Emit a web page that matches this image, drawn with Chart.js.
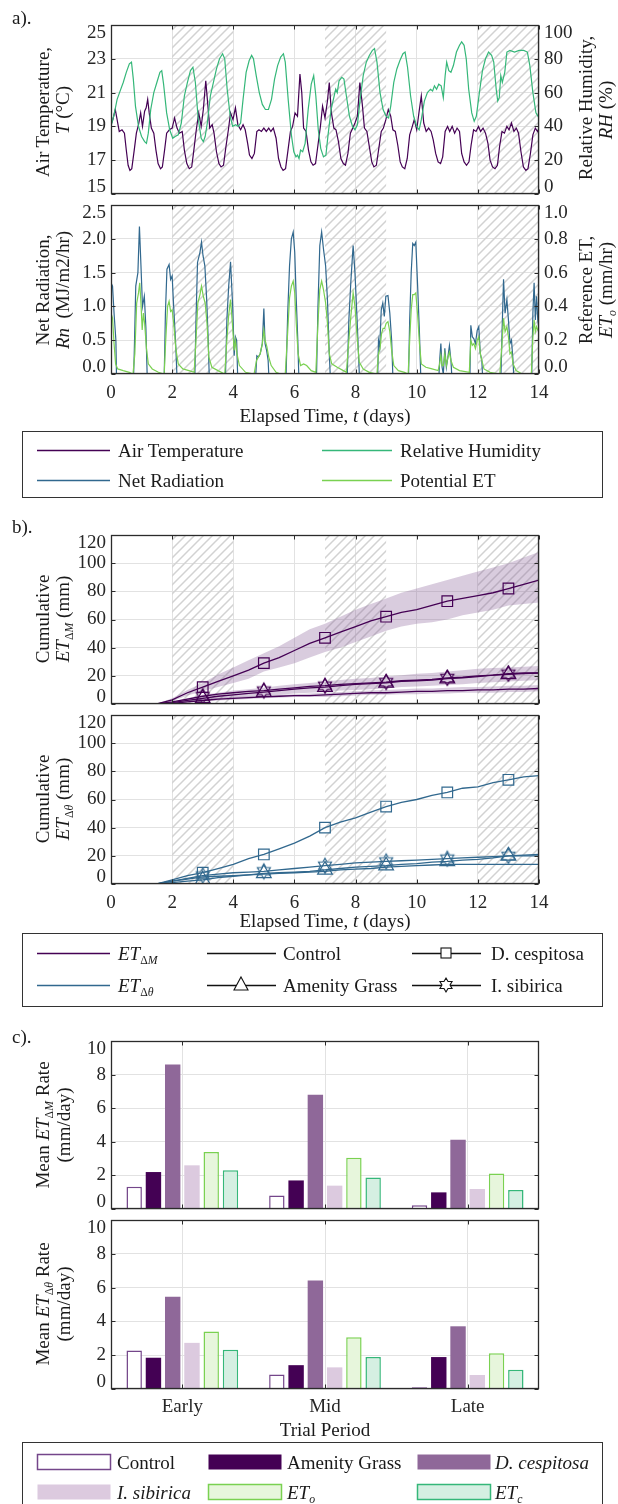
<!DOCTYPE html>
<html><head><meta charset="utf-8">
<script src="https://cdn.jsdelivr.net/npm/chart.js@4.4.1/dist/chart.umd.min.js"></script>
<style>
html,body{margin:0;padding:0;background:#fff;}
#wrap{position:relative;width:618px;height:1504px;overflow:hidden;background:#fff;font-family:'Liberation Serif','Times New Roman',serif;color:#1a1a1a;}
.t{position:absolute;white-space:nowrap;font-size:19px;line-height:1;}
.r{transform:translate(-50%,-50%) rotate(-90deg);}
.h{transform:translate(-50%,-50%);}
.l{transform:translate(0,-50%);}
sub{font-size:0.62em;vertical-align:-0.4em;line-height:0;}
</style></head>
<body><div id="wrap"></div>
<script>
// ---------------- DATA ----------------
const X_TICKS = [0, 2, 4, 6, 8, 10, 12, 14];
const HATCH_PERIODS = [[2, 4], [7, 9], [12, 14]];

// Air temperature (day, degC)
const airTemp = [[0,19.1],[0.06,19.4],[0.14,20.0],[0.21,19.3],[0.27,18.7],[0.36,18.8],[0.44,18.6],[0.50,17.6],[0.56,16.7],[0.62,16.4],[0.68,16.5],[0.76,17.6],[0.83,18.6],[0.90,19.1],[0.97,19.8],[1.03,19.0],[1.10,19.9],[1.15,20.1],[1.20,20.6],[1.25,19.8],[1.32,18.9],[1.40,18.6],[1.47,17.6],[1.54,16.8],[1.62,16.5],[1.68,16.6],[1.76,17.7],[1.82,18.6],[1.91,18.8],[2.00,18.9],[2.08,19.5],[2.16,18.9],[2.24,18.6],[2.33,18.7],[2.40,17.6],[2.48,16.8],[2.56,16.5],[2.64,16.6],[2.71,17.6],[2.79,18.8],[2.87,19.8],[2.95,19.0],[3.02,20.0],[3.10,21.7],[3.17,20.2],[3.23,18.9],[3.31,19.1],[3.37,18.6],[3.45,17.5],[3.53,16.8],[3.60,16.6],[3.68,16.7],[3.76,17.8],[3.84,18.8],[3.91,19.8],[3.99,19.4],[4.07,20.1],[4.15,19.1],[4.24,18.8],[4.32,19.1],[4.39,18.8],[4.47,18.0],[4.53,17.3],[4.61,17.1],[4.69,17.4],[4.77,18.7],[4.84,18.8],[4.92,18.7],[5.00,18.9],[5.08,18.7],[5.16,18.9],[5.23,18.7],[5.31,18.9],[5.40,18.3],[5.48,17.1],[5.56,16.6],[5.63,16.4],[5.71,16.5],[5.79,17.6],[5.87,18.7],[5.94,19.0],[6.02,19.8],[6.10,19.6],[6.18,22.1],[6.24,21.0],[6.30,18.9],[6.38,18.7],[6.46,17.6],[6.54,16.9],[6.61,16.7],[6.69,16.8],[6.77,17.9],[6.85,19.0],[6.92,20.2],[7.00,19.5],[7.08,20.5],[7.14,21.6],[7.21,19.8],[7.29,18.9],[7.36,18.8],[7.44,18.1],[7.52,17.1],[7.60,16.8],[7.67,16.7],[7.75,17.4],[7.83,18.6],[7.91,18.9],[7.98,19.2],[8.06,19.6],[8.14,21.6],[8.22,20.3],[8.29,18.9],[8.37,18.7],[8.45,17.8],[8.53,16.9],[8.60,16.6],[8.68,16.7],[8.76,17.7],[8.84,18.7],[8.91,18.9],[8.99,19.4],[9.07,20.0],[9.15,19.6],[9.22,18.8],[9.30,18.7],[9.38,17.9],[9.46,16.9],[9.53,16.6],[9.61,16.5],[9.69,17.1],[9.77,18.5],[9.84,18.9],[9.92,19.4],[10.00,18.8],[10.08,19.9],[10.15,20.8],[10.23,19.2],[10.31,18.7],[10.39,18.9],[10.47,18.7],[10.54,18.2],[10.62,17.4],[10.70,16.9],[10.78,16.8],[10.85,17.2],[10.93,18.7],[11.01,19.0],[11.08,18.7],[11.16,19.0],[11.24,18.6],[11.32,18.9],[11.40,18.7],[11.47,17.4],[11.55,16.9],[11.63,16.7],[11.71,16.9],[11.78,17.9],[11.86,18.8],[11.94,18.7],[12.02,19.0],[12.09,18.7],[12.17,18.9],[12.25,18.6],[12.33,18.0],[12.40,17.0],[12.48,16.6],[12.56,16.5],[12.64,16.7],[12.71,17.8],[12.79,18.7],[12.87,18.6],[12.95,19.0],[13.02,18.8],[13.10,19.2],[13.18,18.7],[13.26,18.9],[13.33,18.6],[13.41,17.5],[13.49,16.6],[13.57,16.4],[13.64,16.5],[13.72,17.4],[13.80,18.5],[13.88,18.9],[13.95,18.7],[14.00,18.9]];

// Relative humidity (day, %)
const relHum = [[0,40],[0.1,47],[0.2,56],[0.3,61],[0.4,66],[0.5,72],[0.6,77],[0.67,78],[0.73,68],[0.8,52],[0.9,40],[1.0,34],[1.1,31],[1.16,30],[1.22,36],[1.3,50],[1.4,60],[1.5,66],[1.6,72],[1.66,73],[1.72,65],[1.82,48],[1.92,38],[2.02,33],[2.1,34],[2.2,35],[2.3,42],[2.4,58],[2.5,66],[2.6,73],[2.68,75],[2.76,66],[2.85,45],[2.95,33],[3.02,31],[3.08,34],[3.15,42],[3.25,58],[3.35,66],[3.45,74],[3.55,80],[3.65,83],[3.72,80],[3.8,62],[3.9,46],[3.98,40],[4.08,41],[4.16,40],[4.24,42],[4.32,56],[4.42,72],[4.52,79],[4.6,82],[4.66,80],[4.75,70],[4.85,60],[4.95,53],[5.05,50],[5.15,50],[5.25,56],[5.35,68],[5.45,76],[5.55,81],[5.64,83],[5.7,78],[5.8,55],[5.9,35],[5.98,25],[6.05,22],[6.1,23],[6.15,21],[6.2,26],[6.27,25],[6.35,30],[6.45,50],[6.55,65],[6.63,70],[6.7,58],[6.78,38],[6.86,27],[6.95,22],[7.03,23],[7.1,35],[7.2,50],[7.3,58],[7.35,62],[7.4,60],[7.46,67],[7.55,69],[7.62,68],[7.7,58],[7.8,46],[7.9,40],[7.98,38],[8.06,41],[8.15,56],[8.25,70],[8.35,78],[8.45,82],[8.55,85],[8.62,86],[8.7,78],[8.8,60],[8.9,50],[9.0,46],[9.08,45],[9.15,52],[9.25,66],[9.35,74],[9.45,79],[9.55,83],[9.62,84],[9.7,75],[9.8,58],[9.9,46],[10.0,40],[10.08,38],[10.15,44],[10.25,55],[10.35,60],[10.45,62],[10.52,61],[10.58,64],[10.65,62],[10.72,65],[10.8,64],[10.87,57],[10.93,70],[10.98,78],[11.05,73],[11.12,72],[11.2,76],[11.3,84],[11.4,88],[11.47,90],[11.55,88],[11.62,80],[11.7,62],[11.8,48],[11.88,43],[11.95,46],[12.05,60],[12.15,73],[12.25,80],[12.35,84],[12.45,82],[12.52,78],[12.6,62],[12.65,55],[12.7,57],[12.75,70],[12.8,66],[12.88,72],[12.95,84],[13.05,85],[13.2,84],[13.35,85],[13.5,85],[13.62,84],[13.7,76],[13.8,60],[13.9,48],[14,45]];

// Net radiation (day, MJ/m2/hr) - negative at night, below the axis
const netRad = [[0,1.35],[0.05,1.3],[0.10,0.9],[0.16,0.5],[0.19,-0.3],[0.72,-0.3],[0.76,0.3],[0.81,1.3],[0.88,1.5],[0.93,2.18],[0.98,1.6],[1.03,1.0],[1.09,1.15],[1.14,0.7],[1.20,-0.3],[1.73,-0.3],[1.78,0.9],[1.83,1.55],[1.90,1.62],[1.95,1.4],[2.00,1.45],[2.05,1.0],[2.12,0.4],[2.18,-0.3],[2.73,-0.3],[2.78,0.8],[2.83,1.65],[2.91,1.8],[2.96,1.95],[3.01,1.75],[3.07,1.6],[3.13,1.1],[3.18,0.5],[3.23,-0.3],[3.73,-0.3],[3.79,0.8],[3.85,1.3],[3.91,1.66],[3.98,1.0],[4.03,0.27],[4.07,0.55],[4.11,0.5],[4.16,-0.3],[4.70,-0.3],[4.77,0.27],[4.82,0.25],[4.88,0.3],[4.95,0.45],[5.00,0.97],[5.04,0.45],[5.09,0.35],[5.14,0.2],[5.19,-0.3],[5.71,-0.3],[5.78,0.9],[5.84,1.6],[5.90,2.0],[5.96,2.1],[6.01,1.8],[6.06,1.1],[6.11,0.5],[6.16,-0.3],[6.71,-0.3],[6.77,1.0],[6.83,1.9],[6.89,2.1],[6.95,1.85],[7.02,1.6],[7.08,1.1],[7.14,0.3],[7.20,-0.3],[7.71,-0.3],[7.78,0.8],[7.85,1.4],[7.92,1.9],[7.98,1.5],[8.05,0.8],[8.10,0.25],[8.15,-0.3],[8.71,-0.3],[8.75,0.5],[8.79,0.4],[8.84,0.95],[8.89,1.05],[8.94,0.85],[8.99,1.15],[9.06,1.16],[9.12,0.9],[9.18,0.5],[9.24,-0.3],[9.72,-0.3],[9.77,0.8],[9.82,1.5],[9.87,1.93],[9.92,1.9],[9.97,1.95],[10.03,1.3],[10.09,0.6],[10.15,-0.3],[10.70,-0.3],[10.75,0.2],[10.79,0.45],[10.83,0.1],[10.87,0.0],[10.92,0.38],[10.97,0.1],[11.02,0.25],[11.07,0.42],[11.12,0.2],[11.18,-0.3],[11.73,-0.3],[11.77,0.72],[11.82,0.55],[11.87,0.52],[11.92,0.45],[11.98,0.65],[12.03,0.7],[12.08,0.3],[12.13,0.2],[12.18,-0.3],[12.74,-0.3],[12.79,0.6],[12.84,1.4],[12.89,0.9],[12.95,1.1],[13.00,0.8],[13.05,0.45],[13.10,0.5],[13.15,0.2],[13.20,-0.3],[13.75,-0.3],[13.80,0.9],[13.84,1.35],[13.88,0.8],[13.92,1.15],[13.96,0.8],[14.00,0.65]];

// Potential / reference ET (day, mm/hr)
const potET = [[0,0.36],[0.05,0.33],[0.10,0.18],[0.15,0.06],[0.22,0.03],[0.40,0.02],[0.60,0.01],[0.72,0.0],[0.78,0.12],[0.84,0.42],[0.90,0.48],[0.94,0.54],[0.98,0.42],[1.02,0.26],[1.06,0.36],[1.10,0.3],[1.16,0.15],[1.22,0.06],[1.35,0.03],[1.55,0.01],[1.74,0.0],[1.79,0.2],[1.85,0.4],[1.90,0.43],[1.95,0.37],[2.00,0.38],[2.05,0.3],[2.12,0.15],[2.20,0.06],[2.35,0.03],[2.55,0.02],[2.72,0.01],[2.78,0.2],[2.84,0.42],[2.91,0.47],[2.96,0.52],[3.02,0.46],[3.08,0.42],[3.14,0.3],[3.20,0.1],[3.30,0.04],[3.50,0.02],[3.72,0.0],[3.79,0.2],[3.85,0.35],[3.91,0.44],[3.97,0.3],[4.03,0.14],[4.07,0.2],[4.12,0.12],[4.20,0.05],[4.40,0.01],[4.68,0.0],[4.76,0.08],[4.82,0.1],[4.88,0.12],[4.95,0.18],[5.00,0.26],[5.04,0.2],[5.10,0.16],[5.16,0.1],[5.24,0.05],[5.40,0.01],[5.55,0.0],[5.70,0.0],[5.78,0.25],[5.84,0.45],[5.90,0.52],[5.96,0.55],[6.01,0.48],[6.06,0.3],[6.12,0.12],[6.20,0.05],[6.30,0.06],[6.40,0.05],[6.55,0.02],[6.70,0.01],[6.77,0.3],[6.83,0.5],[6.89,0.55],[6.95,0.5],[7.02,0.42],[7.08,0.3],[7.14,0.12],[7.22,0.06],[7.40,0.04],[7.60,0.02],[7.70,0.01],[7.78,0.2],[7.85,0.35],[7.92,0.48],[7.98,0.4],[8.05,0.22],[8.12,0.07],[8.25,0.03],[8.45,0.01],[8.70,0.0],[8.75,0.12],[8.80,0.15],[8.85,0.24],[8.90,0.27],[8.95,0.27],[9.00,0.3],[9.06,0.31],[9.12,0.25],[9.18,0.14],[9.25,0.05],[9.40,0.02],[9.60,0.01],[9.72,0.0],[9.77,0.2],[9.82,0.38],[9.87,0.47],[9.92,0.47],[9.97,0.48],[10.03,0.35],[10.09,0.18],[10.15,0.06],[10.30,0.04],[10.50,0.03],[10.70,0.02],[10.75,0.06],[10.79,0.11],[10.83,0.05],[10.87,0.05],[10.92,0.12],[10.97,0.05],[11.02,0.1],[11.07,0.13],[11.12,0.08],[11.20,0.04],[11.40,0.02],[11.72,0.01],[11.77,0.2],[11.82,0.17],[11.87,0.18],[11.92,0.15],[11.98,0.2],[12.03,0.22],[12.08,0.12],[12.13,0.08],[12.20,0.03],[12.40,0.01],[12.72,0.0],[12.79,0.18],[12.84,0.33],[12.89,0.25],[12.95,0.28],[13.00,0.22],[13.05,0.12],[13.10,0.13],[13.15,0.06],[13.25,0.02],[13.45,0.0],[13.75,0.0],[13.80,0.22],[13.84,0.32],[13.88,0.25],[13.92,0.28],[13.96,0.26],[14.00,0.25]];

// Cumulative ET (mm) at these days
const cumDays = [1.5,2,2.5,3,3.5,4,4.5,5,5.5,6,6.5,7,7.5,8,8.5,9,9.5,10,10.5,11,11.5,12,12.5,13,13.5,14];
const markerDays = [3,5,7,9,11,13];
// ET_dM
const dcesM      = [0,3,8,12,16,20,24,29,33,38,43,47,51,55,59,62,65,67,70,73,75,77,79,82,85,88];
const dcesM_hi   = [0,4,10,15,21,26,31,36,41,47,53,57,62,67,71,75,79,82,85,88,91,94,97,100,104,108];
const dcesM_lo   = [0,2,6,9,12,15,18,23,26,29,33,37,40,44,48,52,55,57,58,60,63,65,67,70,71,72];
const amenM      = [0,1,2.5,4,5.5,6.5,7.5,8.5,9.5,10.5,11.5,12,13,14,14.5,15,16,16.5,17,18,18.5,19.5,20.5,21,21.5,22];
const amenM_hi   = [0,1.5,4,6.5,8,9.5,10.5,11.5,13,14,15,16,17,18,18.5,19.5,20.5,21.5,22,23,24,25,25.5,26,26.5,27];
const amenM_lo   = [0,0.5,1.5,2.5,3.5,4.5,5,6,6.5,7.5,8,8.5,9.5,10,10.5,11,12,12.5,13,13.5,14,15,15.5,16,16.5,17];
const sibM       = [0,1.5,3.5,5.5,7,8,9,9.5,10.5,11.5,12.5,13,14,14.5,15,15.5,16.5,17,17.5,18.5,19,20,20.5,21.5,22,22];
const ctrlM      = [0,0.5,1.5,2.5,3.5,4,4.5,5,5.5,6,6,6.5,7,7.5,8,8,8.5,9,9,9.5,9.5,10,10,10.5,10.5,11];
const ctrlM_hi   = [0,1,2.5,3.5,4.5,5,5.5,6,6.5,7,7.5,8,8.5,9,9.5,10,10.5,11,11,11.5,12,12,12.5,13,13,13.5];
const ctrlM_lo   = [0,0,1,1.5,2.5,3,3.5,4,4.5,5,5,5,5.5,6,6.5,6.5,7,7,7.5,7.5,8,8,8,8.5,8.5,9];
// ET_dTheta
const dcesT = [0,3,6,8,11,14,18,21,25,29,34,40,44,47,51,55,58,60,63,65,68,69,72,74,76,77];
const amenT = [0,1,2,3,4.5,5.5,6.5,7.5,8,8.5,9,10,11,12,12.5,13,14,14.5,15.5,16,17,17.5,18.5,20,20,20];
const sibT  = [0,2,4,6,7,8,8.5,9,10,11,12,13,14,15,15.5,16,16.5,17,17.5,18,18.5,19,19.5,20,20.5,21];
const ctrlT = [0,2,3.5,5,5.5,6,6.5,7,7.5,8,8.5,9,10,10.5,11,12,12.5,13,13.5,14,14,14,14,14,14,14];

// Mean ET rates (mm/day)
const periods = ['Early', 'Mid', 'Late'];
const rateM_control = [1.33, 0.81, 0.22];
const rateM_amenity = [2.2, 1.7, 0.99];
const rateM_dces    = [8.6, 6.8, 4.12];
const rateM_isib    = [2.6, 1.39, 1.19];
const rateM_eto     = [3.39, 3.05, 2.12];
const rateM_etc     = [2.3, 1.88, 1.13];
const rateT_control = [2.28, 0.86, 0.1];
const rateT_amenity = [1.85, 1.41, 1.89];
const rateT_dces    = [5.46, 6.42, 3.71];
const rateT_isib    = [2.73, 1.28, 0.83];
const rateT_eto     = [3.4, 3.06, 2.12];
const rateT_etc     = [2.32, 1.9, 1.14];

// ---------------- STYLE ----------------
const PURPLE = '#440154', GREEN = '#35b779', BLUE = '#31688e', LGREEN = '#7ad151';
const DCES = '#8f6899', ISIB = '#dccadf', CTRL_EDGE = '#74468a';
const ETO_FILL = '#e7f6dc', ETC_FILL = '#d5efe2';
const BAND = 'rgba(140,100,155,0.33)';
const GRID = '#e2e2e2';
const FONT = "'Liberation Serif', 'Times New Roman', serif";
const TICKF = {family: FONT, size: 19};
const W = 618, LEFT = 111, RIGHT = 539;

Chart.defaults.font.family = FONT;
Chart.defaults.color = '#262626';

const wrap = document.getElementById('wrap');

function txt(html, x, y, cls, size) {
  const d = document.createElement('div');
  d.className = 't ' + cls;
  d.style.left = x + 'px'; d.style.top = y + 'px';
  if (size) d.style.fontSize = size + 'px';
  d.innerHTML = html;
  wrap.appendChild(d);
}

// hatch pattern tile
const hatchTile = (() => {
  const s = 9, c = document.createElement('canvas');
  c.width = s; c.height = s;
  const g = c.getContext('2d');
  g.strokeStyle = '#d2d2d2'; g.lineWidth = 1.5;
  g.beginPath();
  g.moveTo(0, s); g.lineTo(s, 0);
  g.moveTo(-s, s); g.lineTo(s, -s);
  g.moveTo(0, 2 * s); g.lineTo(2 * s, 0);
  g.stroke();
  return c;
})();

function hexagram(r, color, lw) {
  const size = Math.ceil(2 * r + 2 * lw + 2);
  const c = document.createElement('canvas'); c.width = c.height = size;
  const g = c.getContext('2d');
  const cx = size / 2, cy = size / 2, ri = r / Math.sqrt(3);
  g.beginPath();
  for (let k = 0; k < 12; k++) {
    const ang = -Math.PI / 2 + k * Math.PI / 6;
    const rr = k % 2 === 0 ? r : ri;
    const px = cx + rr * Math.cos(ang), py = cy + rr * Math.sin(ang);
    if (k === 0) g.moveTo(px, py); else g.lineTo(px, py);
  }
  g.closePath(); g.strokeStyle = color; g.lineWidth = lw; g.stroke();
  return c;
}

const hatchPlugin = {
  id: 'hatch',
  beforeDatasetsDraw(chart, args, opts) {
    if (!opts || !opts.ranges) return;
    const {ctx, chartArea: a} = chart, x = chart.scales.x;
    ctx.save();
    ctx.beginPath(); ctx.rect(a.left, a.top, a.right - a.left, a.bottom - a.top); ctx.clip();
    ctx.fillStyle = ctx.createPattern(hatchTile, 'repeat');
    for (const [s, e] of opts.ranges) {
      const x0 = x.getPixelForValue(s), x1 = x.getPixelForValue(e);
      ctx.fillRect(x0, a.top, x1 - x0, a.bottom - a.top);
    }
    ctx.restore();
  }
};

const framePlugin = {
  id: 'frame',
  afterDraw(chart) {
    const {ctx, chartArea: a} = chart;
    const L = Math.round(a.left) + 0.5, R = Math.round(a.right) - 0.5;
    const T = Math.round(a.top) + 0.5, B = Math.round(a.bottom) - 0.5;
    const yl = chart.scales.y, yr = chart.scales.y2, xs = chart.scales.x;
    const tl = 4;
    ctx.save();
    ctx.strokeStyle = '#2b2b2b'; ctx.lineWidth = 1;
    ctx.beginPath();
    yl.ticks.forEach((t, i) => {
      const p = Math.round(yl.getPixelForTick(i)) + 0.5;
      ctx.moveTo(L, p); ctx.lineTo(L + tl, p);
      if (!yr) { ctx.moveTo(R, p); ctx.lineTo(R - tl, p); }
    });
    if (yr) yr.ticks.forEach((t, i) => {
      const p = Math.round(yr.getPixelForTick(i)) + 0.5;
      ctx.moveTo(R, p); ctx.lineTo(R - tl, p);
    });
    xs.ticks.forEach((t, i) => {
      const p = Math.round(xs.getPixelForTick(i)) + 0.5;
      ctx.moveTo(p, B); ctx.lineTo(p, B - tl);
      ctx.moveTo(p, T); ctx.lineTo(p, T + tl);
    });
    ctx.stroke();
    ctx.lineWidth = 1.3;
    ctx.strokeRect(L, T, R - L, B - T);
    ctx.restore();
  }
};

// keep end tick labels of vertical axes inside the frame
const clampPlugin = {
  id: 'clampTicks',
  beforeDraw(chart) {
    const a = chart.chartArea;
    for (const s of Object.values(chart.scales)) {
      if (s.isHorizontal() || !s.options.display || !s.options.ticks.display) continue;
      const items = s.getLabelItems(a);
      if (!items || items._clamped) continue;
      items._clamped = true;
      for (const it of items) {
        const tr = it.options.translation;
        if (tr[1] - 8 < a.top) tr[1] = a.top + 8;
        if (tr[1] + 7 > a.bottom) tr[1] = a.bottom - 7;
      }
    }
  }
};

function noPad(s) { s.paddingTop = 0; s.paddingBottom = 0; s.paddingLeft = 0; s.paddingRight = 0; }

function yAxis(min, max, step, fmt, grid) {
  return {
    type: 'linear', min, max,
    ticks: {stepSize: step, font: TICKF, color: '#262626', padding: 5, callback: fmt || (v => String(v))},
    grid: {display: grid !== false, color: GRID, drawTicks: false, lineWidth: 1},
    border: {display: false}
  };
}
function xTime(show) {
  return {
    type: 'linear', min: X_TICKS[0], max: X_TICKS[X_TICKS.length - 1],
    afterBuildTicks(s) { s.ticks = X_TICKS.map(v => ({value: v})); },
    ticks: {display: show, font: TICKF, color: '#262626', padding: 8, maxRotation: 0, autoSkip: false},
    grid: {color: GRID, drawTicks: false, lineWidth: 1},
    border: {display: false}
  };
}
function xCat(show) {
  return {
    type: 'category',
    ticks: {display: show, font: TICKF, color: '#262626', padding: 7, maxRotation: 0},
    grid: {color: GRID, drawTicks: false, offset: false, lineWidth: 1},
    border: {display: false}
  };
}

function makePanel({top, bottom, bottomH, type, data, x, y, y2, hatch}) {
  const padTop = 12;
  const h = bottom - top + padTop + bottomH;
  const cv = document.createElement('canvas');
  cv.width = W; cv.height = h;
  cv.style.cssText = `position:absolute;left:0;top:${top - padTop}px;width:${W}px;height:${h}px`;
  wrap.appendChild(cv);
  const scales = {
    x: Object.assign({}, x, {afterFit(s) { s.height = bottomH; noPad(s); }}),
    y: Object.assign({position: 'left'}, y, {afterFit(s) { s.width = LEFT; noPad(s); }})
  };
  if (y2) scales.y2 = Object.assign({position: 'right'}, y2, {afterFit(s) { s.width = W - RIGHT; noPad(s); }});
  return new Chart(cv, {
    type, data,
    options: {
      responsive: false, animation: false, devicePixelRatio: 1, events: [],
      layout: {padding: {top: padTop, left: 0, right: y2 ? 0 : W - RIGHT, bottom: 0}},
      plugins: {legend: {display: false}, tooltip: {enabled: false}, hatch: {ranges: hatch || null}},
      scales
    },
    plugins: [hatchPlugin, clampPlugin, framePlugin]
  });
}

const toXY = pairs => pairs.map(([x, y]) => ({x, y}));
const zipXY = (xs, ys) => xs.map((x, i) => ({x, y: ys[i]}));
const markR = r => ctx => (ctx.raw && markerDays.includes(ctx.raw.x)) ? r : 0;
const series = (pairs, color, axis) => ({data: toXY(pairs), borderColor: color, borderWidth: 1.2, pointRadius: 0, tension: 0, fill: false, yAxisID: axis});
const band = (vals) => ({data: zipXY(cumDays, vals), borderColor: 'rgba(0,0,0,0)', borderWidth: 0, pointRadius: 0, backgroundColor: BAND, order: 2});

// ---------------- PANEL a ----------------
makePanel({top: 25, bottom: 194, bottomH: 6, type: 'line', hatch: HATCH_PERIODS,
  data: {datasets: [series(relHum, GREEN, 'y2'), series(airTemp, PURPLE, 'y')]},
  x: xTime(false), y: yAxis(15, 25, 2), y2: yAxis(0, 100, 20, null, false)});
makePanel({top: 205, bottom: 374, bottomH: 32, type: 'line', hatch: HATCH_PERIODS,
  data: {datasets: [series(potET, LGREEN, 'y2'), series(netRad, BLUE, 'y')]},
  x: xTime(true), y: yAxis(0, 2.5, 0.5, v => v.toFixed(1)), y2: yAxis(0, 1, 0.2, v => v.toFixed(1), false)});

// ---------------- PANEL b ----------------
function cumSets(color, dc, am, sb, ct, bands) {
  const hex = hexagram(7.5, color, 1.2);
  const line = (vals, style, r) => ({data: zipXY(cumDays, vals), borderColor: color, borderWidth: 1.3, tension: 0, fill: false,
    pointStyle: style, pointRadius: r ? markR(r) : 0, pointBorderColor: color, pointBackgroundColor: 'rgba(0,0,0,0)', pointBorderWidth: 1.2, order: 1});
  const sets = [line(dc, 'rect', 7.5), line(am, 'triangle', 8.5), line(sb, hex, 7.5), line(ct, 'circle', 0)];
  for (const [hi, lo] of bands) { sets.push(Object.assign(band(hi), {fill: '+1'})); sets.push(Object.assign(band(lo), {fill: false})); }
  return sets;
}
makePanel({top: 535, bottom: 704, bottomH: 6, type: 'line', hatch: HATCH_PERIODS,
  data: {datasets: cumSets(PURPLE, dcesM, amenM, sibM, ctrlM, [[dcesM_hi, dcesM_lo], [amenM_hi, amenM_lo], [ctrlM_hi, ctrlM_lo]])},
  x: xTime(false), y: yAxis(0, 120, 20)});
makePanel({top: 715, bottom: 884, bottomH: 32, type: 'line', hatch: HATCH_PERIODS,
  data: {datasets: cumSets(BLUE, dcesT, amenT, sibT, ctrlT, [])},
  x: xTime(true), y: yAxis(0, 120, 20)});

// ---------------- PANEL c ----------------
function barSets(c, a, d, i, o, e) {
  const b = (vals, bg, edge, bw) => ({data: vals, backgroundColor: bg, borderColor: edge, borderWidth: bw, categoryPercentage: 0.81, barPercentage: 0.8});
  return [b(c, '#ffffff', CTRL_EDGE, 1.5), b(a, PURPLE, PURPLE, 0), b(d, DCES, DCES, 0), b(i, ISIB, ISIB, 0), b(o, ETO_FILL, LGREEN, 1.5), b(e, ETC_FILL, GREEN, 1.5)];
}
makePanel({top: 1041, bottom: 1209, bottomH: 6, type: 'bar',
  data: {labels: periods, datasets: barSets(rateM_control, rateM_amenity, rateM_dces, rateM_isib, rateM_eto, rateM_etc)},
  x: xCat(false), y: yAxis(0, 10, 2)});
makePanel({top: 1220, bottom: 1389, bottomH: 32, type: 'bar',
  data: {labels: periods, datasets: barSets(rateT_control, rateT_amenity, rateT_dces, rateT_isib, rateT_eto, rateT_etc)},
  x: xCat(true), y: yAxis(0, 10, 2)});

// ---------------- TEXT ----------------
txt('a).', 12, 17, 'l');
txt('b).', 12, 526, 'l');
txt('c).', 12, 1036, 'l');

txt('Air Temperature,', 42, 112, 'r');
txt('<i>T</i> (°C)', 62, 110, 'r');
txt('Relative Humidity,', 585, 108, 'r');
txt('<i>RH</i> (%)', 605, 110, 'r');
txt('Net Radiation,', 42, 290, 'r');
txt('<i>Rn</i>&nbsp; (MJ/m2/hr)', 62, 290, 'r');
txt('Reference ET,', 585, 290, 'r');
txt('<i>ET<sub>o</sub></i> (mm/hr)', 605, 290, 'r');
txt('Elapsed Time, <i>t</i> (days)', 325, 415, 'h');

txt('Cumulative', 42, 619, 'r');
txt('<i>ET</i><sub>Δ<i>M</i></sub> (mm)', 62, 619, 'r');
txt('Cumulative', 42, 799, 'r');
txt('<i>ET</i><sub>Δ<i>θ</i></sub> (mm)', 62, 799, 'r');
txt('Elapsed Time, <i>t</i> (days)', 325, 920, 'h');

txt('Mean <i>ET</i><sub>Δ<i>M</i></sub> Rate', 42, 1125, 'r');
txt('(mm/day)', 63, 1125, 'r');
txt('Mean <i>ET</i><sub>Δ<i>θ</i></sub> Rate', 42, 1304, 'r');
txt('(mm/day)', 63, 1304, 'r');
txt('Trial Period', 325, 1429, 'h');

// ---------------- LEGENDS ----------------
const svgNS = 'http://www.w3.org/2000/svg';
const svg = document.createElementNS(svgNS, 'svg');
svg.setAttribute('width', W); svg.setAttribute('height', 1504);
svg.style.cssText = 'position:absolute;left:0;top:0';
wrap.appendChild(svg);
function sv(tag, attrs) { const e = document.createElementNS(svgNS, tag); for (const k in attrs) e.setAttribute(k, attrs[k]); svg.appendChild(e); return e; }
function lline(x1, x2, y, color) { sv('line', {x1, x2, y1: y + 0.5, y2: y + 0.5, stroke: color, 'stroke-width': 1.3}); }

// legend a
sv('rect', {x: 22.5, y: 431.5, width: 580, height: 66, fill: 'none', stroke: '#333', 'stroke-width': 1});
lline(37, 110, 450, PURPLE); txt('Air Temperature', 118, 450, 'l');
lline(322, 392, 450, GREEN); txt('Relative Humidity', 400, 450, 'l');
lline(37, 110, 480, BLUE); txt('Net Radiation', 118, 480, 'l');
lline(322, 392, 480, LGREEN); txt('Potential ET', 400, 480, 'l');

// legend b
sv('rect', {x: 22.5, y: 933.5, width: 580, height: 73, fill: 'none', stroke: '#333', 'stroke-width': 1});
lline(37, 110, 953, PURPLE); txt('<i>ET</i><sub>Δ<i>M</i></sub>', 118, 953, 'l');
lline(37, 110, 985, BLUE); txt('<i>ET</i><sub>Δ<i>θ</i></sub>', 118, 985, 'l');
lline(207, 276, 953, '#111'); txt('Control', 283, 953, 'l');
lline(207, 276, 985, '#111'); txt('Amenity Grass', 283, 985, 'l');
sv('polygon', {points: `${241},${985 - 8} ${241 + 7},${985 + 5} ${241 - 7},${985 + 5}`, fill: '#fff', stroke: '#111', 'stroke-width': 1.1});
lline(412, 481, 953, '#111'); txt('D. cespitosa', 491, 953, 'l');
sv('rect', {x: 441, y: 948, width: 10, height: 10, fill: '#fff', stroke: '#111', 'stroke-width': 1.1});
lline(412, 481, 985, '#111'); txt('I. sibirica', 491, 985, 'l');
(() => {
  const cx = 446, cy = 985, r = 7, ri = r / Math.sqrt(3); const pts = [];
  for (let k = 0; k < 12; k++) { const ang = -Math.PI / 2 + k * Math.PI / 6, rr = k % 2 === 0 ? r : ri; pts.push((cx + rr * Math.cos(ang)).toFixed(2) + ',' + (cy + rr * Math.sin(ang)).toFixed(2)); }
  sv('polygon', {points: pts.join(' '), fill: '#fff', stroke: '#111', 'stroke-width': 1.1});
})();

// legend c
sv('rect', {x: 22.5, y: 1442.5, width: 580, height: 80, fill: 'none', stroke: '#333', 'stroke-width': 1});
function lrect(x, y, fill, stroke) { sv('rect', {x: x + 0.5, y: y - 7.5, width: 73, height: 15, fill, stroke: stroke || fill, 'stroke-width': stroke ? 1.5 : 0}); }
lrect(37, 1462, '#fff', CTRL_EDGE); txt('Control', 117, 1462, 'l');
lrect(208, 1462, PURPLE); txt('Amenity Grass', 287, 1462, 'l');
lrect(417, 1462, DCES); txt('<i>D. cespitosa</i>', 495, 1462, 'l');
lrect(37, 1492, ISIB); txt('<i>I. sibirica</i>', 117, 1492, 'l');
lrect(208, 1492, ETO_FILL, LGREEN); txt('<i>ET<sub>o</sub></i>', 287, 1492, 'l');
lrect(417, 1492, ETC_FILL, GREEN); txt('<i>ET<sub>c</sub></i>', 495, 1492, 'l');
</script>
</body></html>
